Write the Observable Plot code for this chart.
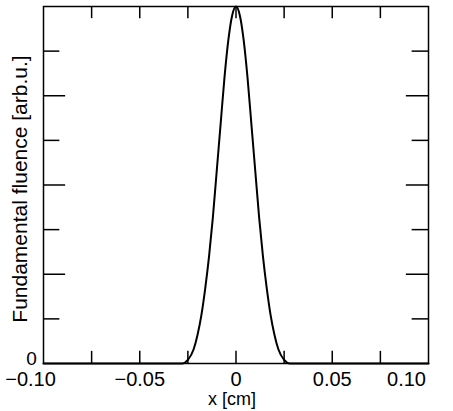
<!DOCTYPE html>
<html><head><meta charset="utf-8">
<script src="https://cdn.jsdelivr.net/npm/d3@7"></script>
<script src="https://cdn.jsdelivr.net/npm/@observablehq/plot@0.6"></script>
<style>body{margin:0;background:#fff}</style>
</head><body><div id="chart"></div>
<script>
// values
const xs = [-0.10, -0.028, -0.025, -0.022, -0.020, -0.018, -0.016, -0.014, -0.012, -0.010, -0.008, -0.006, -0.004, -0.002, 0,
            0.002, 0.004, 0.006, 0.008, 0.010, 0.012, 0.014, 0.016, 0.018, 0.020, 0.022, 0.025, 0.028, 0.10]
const fluence = [0, 0, 0.01, 0.04, 0.08, 0.135, 0.21, 0.30, 0.41, 0.54, 0.67, 0.80, 0.905, 0.975, 1,
                 0.975, 0.905, 0.80, 0.67, 0.54, 0.41, 0.30, 0.21, 0.135, 0.08, 0.04, 0.01, 0, 0]
const xMajor = [-0.10, -0.05, 0, 0.05, 0.10]
const xInner = [-0.075, -0.05, -0.025, 0, 0.025, 0.05, 0.075]
const yTicks = [0.125, 0.25, 0.375, 0.5, 0.625, 0.75, 0.875]

const data = xs.map((x, i) => ({x, y: fluence[i]}))
const fmt = d => d === 0 ? "0" : d3.format(".2f")(d).replace("-", "\u2212")
const long = d => Math.round(d * 8) % 2 === 0
const shift = d => d === -0.1 ? -13 : d === 0.1 ? -22 : 0

let chart = Plot.plot({
  width: 453, height: 411,
  marginLeft: 43, marginRight: 25, marginTop: 6, marginBottom: 48,
  style: {fontFamily: "Liberation Sans, Arial, sans-serif", color: "#000"},
  x: {domain: [-0.1, 0.1], label: null, axis: null},
  y: {domain: [0, 1], label: null, axis: null},
  marks: [
    Plot.frame({stroke: "#000", strokeWidth: 1.5}),
    Plot.ruleX(xInner, {x: d => d, y1: 0, y2: 0.034, stroke: "#000", strokeWidth: 1.5}),
    Plot.ruleX(xInner, {x: d => d, y1: 0.966, y2: 1, stroke: "#000", strokeWidth: 1.5}),
    Plot.ruleY(yTicks, {y: d => d, x1: -0.1, x2: d => long(d) ? -0.0885 : -0.0915, stroke: "#000", strokeWidth: 1.5}),
    Plot.ruleY(yTicks, {y: d => d, x1: 0.1, x2: d => long(d) ? 0.0885 : 0.0915, stroke: "#000", strokeWidth: 1.5}),
    ...xMajor.map(v => Plot.text([v], {x: d => d, y: 0, text: fmt, dy: 16, dx: shift(v), fill: "#000", fontSize: 20})),
    Plot.text([0], {x: -0.1, y: 0, text: ["0"], dx: -12, dy: -5, fill: "#000", fontSize: 19}),
    Plot.line(data, {x: "x", y: "y", stroke: "#000", strokeWidth: 2, curve: "monotone-x"})
  ]
})
const svg = d3.select(chart)
svg.append("text").attr("x", 232).attr("y", 405).attr("text-anchor", "middle")
  .style("font-size", "18px").text("x [cm]")
svg.append("text").attr("transform", "translate(27,189) rotate(-90)").attr("text-anchor", "middle")
  .style("font-size", "21px").text("Fundamental fluence [arb.u.]")
d3.select('#chart').append(() => chart)
</script></body></html>
